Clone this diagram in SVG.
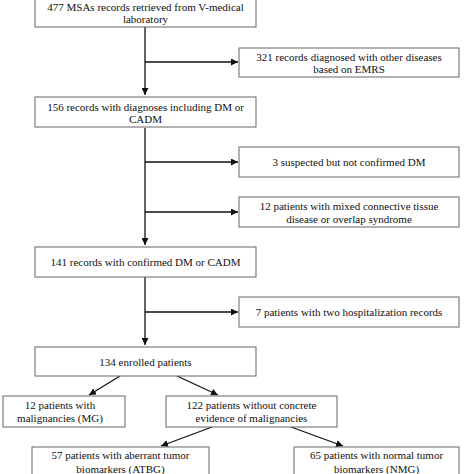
<svg xmlns="http://www.w3.org/2000/svg" width="474" height="474" viewBox="0 0 474 474">
<style>
.box{fill:#fff;stroke:#666;stroke-width:1}
text{font-family:"Liberation Serif","Times New Roman",serif;font-size:11px;fill:#111;text-anchor:middle}
.ln{stroke:#111;stroke-width:1.3;fill:none}
</style>
<defs>
<marker id="ah" viewBox="0 0 10 10" refX="10" refY="5" markerWidth="7" markerHeight="7" markerUnits="userSpaceOnUse" orient="auto">
<path d="M0,0 L10,5 L0,10 z" fill="#111"/>
</marker>
</defs>
<rect width="474" height="474" fill="#fff"/>
<g id="connectors">
<path class="ln" d="M145,27 V95" marker-end="url(#ah)"/>
<path class="ln" d="M145,62 H238" marker-end="url(#ah)"/>
<path class="ln" d="M145,128 V245" marker-end="url(#ah)"/>
<path class="ln" d="M145,162 H238" marker-end="url(#ah)"/>
<path class="ln" d="M145,212 H238" marker-end="url(#ah)"/>
<path class="ln" d="M145,277 V345" marker-end="url(#ah)"/>
<path class="ln" d="M145,312 H238" marker-end="url(#ah)"/>
<path class="ln" d="M120,376 L89,395" marker-end="url(#ah)"/>
<path class="ln" d="M177,376 L218,395" marker-end="url(#ah)"/>
<path class="ln" d="M212,427 L161,446" marker-end="url(#ah)"/>
<path class="ln" d="M291,427 L343,446" marker-end="url(#ah)"/>
</g>
<g id="n1"><rect class="box" x="35" y="-2" width="221" height="29"/><text x="145.5" y="10.5">477 MSAs records retrieved from V-medical</text><text x="145.5" y="23">laboratory</text></g>
<g id="n2"><rect class="box" x="239" y="48" width="220" height="29"/><text x="349" y="60.5">321 records diagnosed with other diseases</text><text x="349" y="73">based on EMRS</text></g>
<g id="n3"><rect class="box" x="35" y="97" width="221" height="30"/><text x="145.5" y="110.5">156 records with diagnoses including DM or</text><text x="145.5" y="123">CADM</text></g>
<g id="n4"><rect class="box" x="239" y="147" width="220" height="30"/><text x="349" y="166">3 suspected but not confirmed DM</text></g>
<g id="n5"><rect class="box" x="239" y="197" width="220" height="30"/><text x="349" y="210">12 patients with mixed connective tissue</text><text x="349" y="222.5">disease or overlap syndrome</text></g>
<g id="n6"><rect class="box" x="35" y="247" width="221" height="30"/><text x="145.5" y="266">141 records with confirmed DM or CADM</text></g>
<g id="n7"><rect class="box" x="239" y="297" width="220" height="30"/><text x="349" y="316">7 patients with two hospitalization records</text></g>
<g id="n8"><rect class="box" x="35" y="347" width="221" height="29"/><text x="145.5" y="365.5">134 enrolled patients</text></g>
<g id="n9"><rect class="box" x="3" y="396" width="122" height="31"/><text x="60" y="409">12 patients with</text><text x="60" y="422">malignancies (MG)</text></g>
<g id="n10"><rect class="box" x="166" y="396" width="171" height="31"/><text x="251.5" y="409">122 patients without concrete</text><text x="251.5" y="422">evidence of malignancies</text></g>
<g id="n11"><rect class="box" x="32" y="447" width="177" height="32"/><text x="120.5" y="459">57 patients with aberrant tumor</text><text x="120.5" y="473">biomarkers (ATBG)</text></g>
<g id="n12"><rect class="box" x="294" y="447" width="165" height="32"/><text x="376.5" y="459">65 patients with normal tumor</text><text x="376.5" y="473">biomarkers (NMG)</text></g>
</svg>
